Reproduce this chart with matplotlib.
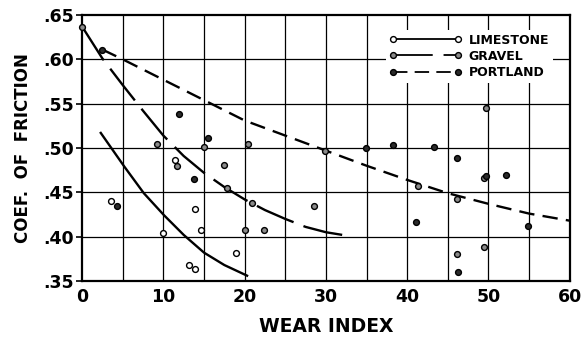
import matplotlib
matplotlib.use("Agg")
import matplotlib.pyplot as plt
import numpy as np

# curves
limestone_x = [2.3, 5.2, 7.6, 10.1, 12.5, 15.0, 17.5, 20.3]
limestone_y = [0.517, 0.479, 0.449, 0.424, 0.402, 0.382, 0.368, 0.356]

gravel_x = [0, 2.5, 5, 7.5, 10, 12.5, 15, 17.5, 20, 22.5, 25, 27.5, 30, 32]
gravel_y = [0.637, 0.601, 0.571, 0.542, 0.514, 0.491, 0.472, 0.456, 0.442, 0.430, 0.420, 0.411, 0.405, 0.402]

portland_x = [2.5, 5, 10, 15, 20, 25, 30, 35, 40, 45, 50, 55, 60]
portland_y = [0.611, 0.600, 0.577, 0.554, 0.531, 0.514, 0.497, 0.480, 0.464, 0.449, 0.437, 0.426, 0.418]

# test points
lime_pts_x = [3.5, 10.0, 11.4, 13.1, 13.9, 13.9, 14.6, 18.9]
lime_pts_y = [0.440, 0.404, 0.487, 0.368, 0.363, 0.431, 0.407, 0.381]

grav_pts_x = [0, 9.2, 11.7, 15.0, 17.5, 17.8, 20.0, 20.9, 22.4, 28.5, 20.4, 49.5, 46.1, 49.4, 49.7, 29.9, 41.3, 46.1]
grav_pts_y = [0.637, 0.505, 0.480, 0.501, 0.481, 0.455, 0.408, 0.438, 0.408, 0.435, 0.505, 0.388, 0.380, 0.466, 0.545, 0.497, 0.457, 0.443]

port_pts_x = [2.5, 4.3, 11.9, 13.8, 15.5, 34.9, 38.2, 43.3, 46.1, 41.1, 46.3, 49.7, 52.1, 54.8]
port_pts_y = [0.611, 0.435, 0.538, 0.465, 0.511, 0.500, 0.503, 0.501, 0.489, 0.416, 0.360, 0.468, 0.469, 0.412]

xticks = [0, 10, 20, 30, 40, 50, 60]
yticks = [0.35, 0.40, 0.45, 0.50, 0.55, 0.60, 0.65]
ytick_labels = [".35", ".40", ".45", ".50", ".55", ".60", ".65"]

fig = plt.figure(figsize=(5.82, 3.41), dpi=100)
ax = fig.add_axes([0.141, 0.176, 0.838, 0.780])

# grid
for gx in np.arange(5, 60, 5):
    ax.axvline(gx, color="black", lw=0.9, zorder=1)
for gy in yticks[1:-1]:
    ax.axhline(gy, color="black", lw=0.9, zorder=1)

lw = 1.7
ax.plot(limestone_x, limestone_y, color="black", lw=lw, zorder=3)
g, = ax.plot(gravel_x, gravel_y, color="black", lw=lw, zorder=3)
g.set_dashes([17, 4.5])
p, = ax.plot(portland_x, portland_y, color="black", lw=lw, zorder=3)
p.set_dashes([6.5, 3.5])

ms = 4.2
ax.plot(lime_pts_x, lime_pts_y, "o", ms=ms, mfc="white", mec="black", mew=1.0, zorder=4, clip_on=False)
ax.plot(grav_pts_x, grav_pts_y, "o", ms=ms, mfc="#8a8a8a", mec="black", mew=1.0, zorder=4, clip_on=False)
ax.plot(port_pts_x, port_pts_y, "o", ms=ms, mfc="#2a2a2a", mec="black", mew=1.0, zorder=4, clip_on=False)

# legend handles
h1, = ax.plot([], [], "-o", color="black", lw=1.3, ms=4.2, mfc="white", mew=1.0)
h2, = ax.plot([], [], "-o", color="black", lw=1.3, ms=4.2, mfc="#8a8a8a", mew=1.0)
h2.set_dashes([22, 6])
h3, = ax.plot([], [], "-o", color="black", lw=1.3, ms=4.2, mfc="#2a2a2a", mew=1.0)
h3.set_dashes([8, 4])
leg = ax.legend([h1, h2, h3], ["LIMESTONE", "GRAVEL", "PORTLAND"],
                loc="upper left", bbox_to_anchor=(0.623, 0.944), frameon=True,
                numpoints=2, handlelength=5.8, handletextpad=0.5, labelspacing=0.25,
                borderpad=0.3, borderaxespad=0, fancybox=False,
                prop={"weight": "bold", "size": 9})
leg.get_frame().set_facecolor("white")
leg.get_frame().set_edgecolor("none")
leg.get_frame().set_alpha(1)
leg.set_zorder(5)

ax.set_xlim(0, 60)
ax.set_ylim(0.35, 0.65)
ax.set_xticks(xticks)
ax.set_xticklabels([str(v) for v in xticks], fontsize=12.5, fontweight="bold")
ax.set_yticks(yticks)
ax.set_yticklabels(ytick_labels, fontsize=12.5, fontweight="bold")
ax.tick_params(axis="x", length=0, pad=5)
ax.tick_params(axis="y", length=4, width=1.2, pad=2)
for s in ax.spines.values():
    s.set_linewidth(1.6)

ax.set_xlabel("WEAR INDEX", fontsize=13.5, fontweight="bold", labelpad=8)
ax.set_ylabel("COEF.  OF  FRICTION", fontsize=12, fontweight="bold", labelpad=8)

fig.savefig("out.png", dpi=100)
